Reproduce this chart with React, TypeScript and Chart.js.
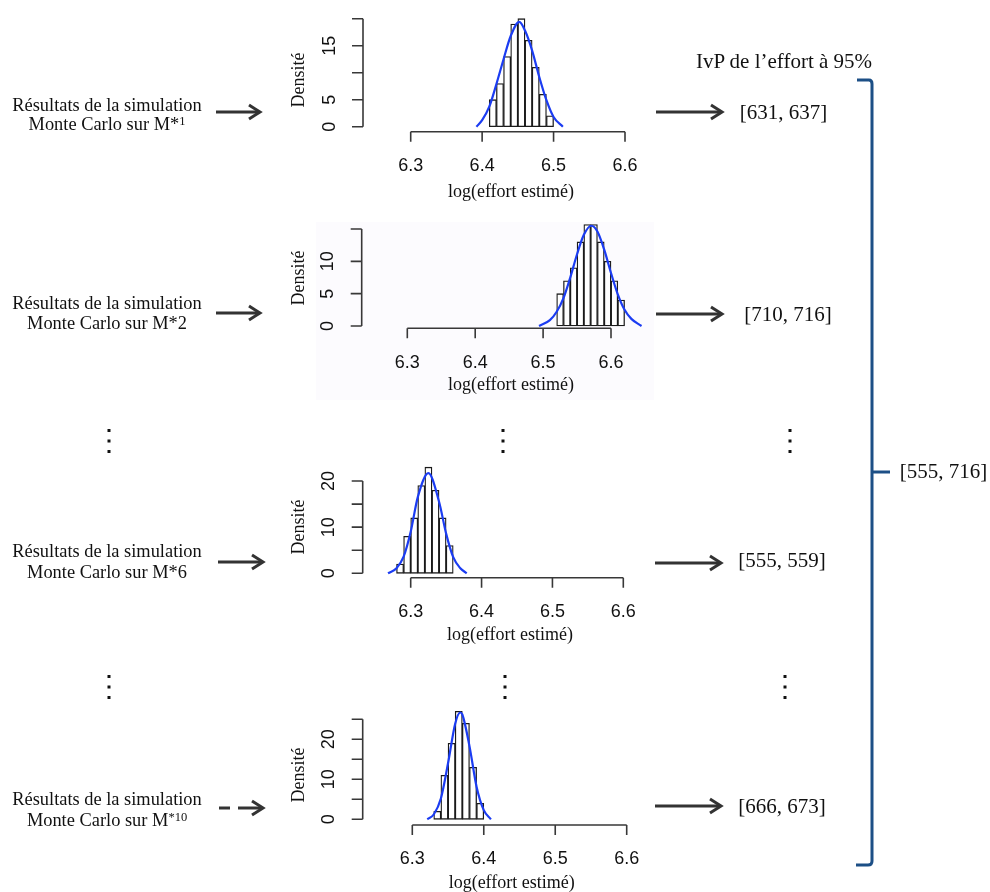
import React, { useEffect, useRef } from "react";
import { Chart, registerables } from "chart.js";

Chart.register(...registerables);

// ---------------- data ----------------
const xTickValues = [6.3, 6.4, 6.5, 6.6];
const xTickLabels = ["6.3", "6.4", "6.5", "6.6"];
const binWidth = 0.01;
const X_MIN = 6.25;
const X_MAX = 6.66;

// M*1
const m1BinStarts = [6.41, 6.42, 6.43, 6.44, 6.45, 6.46, 6.47, 6.48, 6.49];
const m1Density = [5, 8, 13, 19, 20, 16, 11, 6, 2];
const m1CurveX = [6.392, 6.4, 6.41, 6.42, 6.43, 6.44, 6.452, 6.46, 6.47, 6.48, 6.49, 6.5, 6.513];
const m1CurveY = [0, 1.2, 3.7, 7.9, 12.5, 16.8, 19.4, 17.8, 14.1, 9.2, 4.9, 1.8, 0];
const m1YTicks = [0, 5, 10, 15, 20];
const m1YLabels = ["0", "5", "", "15", ""];

// M*2
const m2BinStarts = [6.52, 6.53, 6.54, 6.55, 6.56, 6.57, 6.58, 6.59, 6.6, 6.61];
const m2Density = [5, 7, 9, 13, 15.7, 15.7, 13, 10, 7, 4];
const m2CurveX = [6.494, 6.51, 6.52, 6.53, 6.54, 6.55, 6.56, 6.571, 6.58, 6.59, 6.6, 6.61, 6.62, 6.63, 6.645];
const m2CurveY = [0, 0.9, 2.2, 4.3, 7.5, 11.1, 14.1, 15.5, 14.6, 11.8, 8.2, 4.9, 2.5, 1.1, 0];
const m2YTicks = [0, 5, 10, 15];
const m2YLabels = ["0", "5", "10", ""];

// M*6
const m6BinStarts = [6.28, 6.29, 6.3, 6.31, 6.32, 6.33, 6.34, 6.35];
const m6Density = [2, 8, 12, 19, 23, 18, 12, 6];
const m6CurveX = [6.268, 6.28, 6.29, 6.3, 6.31, 6.325, 6.34, 6.35, 6.36, 6.37, 6.379];
const m6CurveY = [0, 1.1, 3.6, 9.0, 16.5, 21.7, 15.5, 8.6, 3.5, 1.1, 0];
const m6YTicks = [0, 5, 10, 15, 20];
const m6YLabels = ["0", "", "10", "", "20"];

// M*10
const m10BinStarts = [6.33, 6.34, 6.35, 6.36, 6.37, 6.38, 6.39];
const m10Density = [2, 11, 19, 27, 24, 13, 4];
const m10CurveX = [6.321, 6.33, 6.34, 6.35, 6.36, 6.367, 6.37, 6.38, 6.39, 6.4, 6.41];
const m10CurveY = [0, 1.2, 5.2, 14.0, 23.9, 26.7, 26.2, 18.3, 8.1, 2.3, 0];
const m10YTicks = [0, 5, 10, 15, 20, 25];
const m10YLabels = ["0", "", "10", "", "20", ""];

const intervals = ["[631, 637]", "[710, 716]", "[555, 559]", "[666, 673]"];
const globalInterval = "[555, 716]";

// ---------------- layout ----------------
const CANVAS_LEFT = 270;
const CANVAS_WIDTH = 420;

const panels = [
  {
    binStarts: m1BinStarts, density: m1Density, curveX: m1CurveX, curveY: m1CurveY,
    yTicks: m1YTicks, yLabels: m1YLabels,
    top: 0, height: 210, x63: 410.7, x66: 625, y0: 126.7, yTopPx: 18.7,
    yAxisX: 363, xAxisY: 131.7, xTickY: 166, xTitleX: 511, xTitleY: 192,
    yTickX: 330, yTitleX: 299, yTitleY: 80,
  },
  {
    binStarts: m2BinStarts, density: m2Density, curveX: m2CurveX, curveY: m2CurveY,
    yTicks: m2YTicks, yLabels: m2YLabels,
    top: 205, height: 200, x63: 407.3, x66: 611, y0: 326, yTopPx: 229,
    yAxisX: 361.7, xAxisY: 328.3, xTickY: 363, xTitleX: 511, xTitleY: 385,
    yTickX: 328, yTitleX: 299, yTitleY: 278,
  },
  {
    binStarts: m6BinStarts, density: m6Density, curveX: m6CurveX, curveY: m6CurveY,
    yTicks: m6YTicks, yLabels: m6YLabels,
    top: 455, height: 195, x63: 410.7, x66: 623.3, y0: 573.3, yTopPx: 481,
    yAxisX: 362.7, xAxisY: 577.7, xTickY: 611.7, xTitleX: 510, xTitleY: 635,
    yTickX: 329, yTitleX: 299, yTitleY: 527,
  },
  {
    binStarts: m10BinStarts, density: m10Density, curveX: m10CurveX, curveY: m10CurveY,
    yTicks: m10YTicks, yLabels: m10YLabels,
    top: 700, height: 192, x63: 412.3, x66: 626.7, y0: 819.3, yTopPx: 719.3,
    yAxisX: 362.7, xAxisY: 825, xTickY: 859, xTitleX: 511.7, xTitleY: 883,
    yTickX: 329, yTitleX: 299, yTitleY: 775,
  },
];

type Panel = (typeof panels)[number];

function axisPlugin(p: Panel) {
  return {
    id: "rAxes",
    afterDraw(chart: any) {
      const ctx = chart.ctx as CanvasRenderingContext2D;
      const xs = chart.scales.x;
      const ys = chart.scales.y;
      const ox = CANVAS_LEFT;
      const oy = p.top;
      ctx.save();
      ctx.strokeStyle = "#383838";
      ctx.fillStyle = "#111";
      ctx.lineWidth = 1.6;
      // x axis
      const yA = p.xAxisY - oy;
      ctx.beginPath();
      ctx.moveTo(xs.getPixelForValue(xTickValues[0]), yA);
      ctx.lineTo(xs.getPixelForValue(xTickValues[xTickValues.length - 1]), yA);
      xTickValues.forEach((v) => {
        const px = xs.getPixelForValue(v);
        ctx.moveTo(px, yA);
        ctx.lineTo(px, yA + 10);
      });
      ctx.stroke();
      ctx.font = '18px "Liberation Sans", Arial, sans-serif';
      ctx.textAlign = "center";
      ctx.textBaseline = "middle";
      xTickValues.forEach((v, i) => {
        ctx.fillText(xTickLabels[i], xs.getPixelForValue(v), p.xTickY - oy);
      });
      // y axis
      const xA = p.yAxisX - ox;
      ctx.beginPath();
      ctx.moveTo(xA, ys.getPixelForValue(p.yTicks[0]));
      ctx.lineTo(xA, ys.getPixelForValue(p.yTicks[p.yTicks.length - 1]));
      p.yTicks.forEach((v) => {
        const py = ys.getPixelForValue(v);
        ctx.moveTo(xA, py);
        ctx.lineTo(xA - 11, py);
      });
      ctx.stroke();
      p.yTicks.forEach((v, i) => {
        const lab = p.yLabels[i];
        if (!lab) return;
        ctx.save();
        ctx.translate(p.yTickX - ox, ys.getPixelForValue(v));
        ctx.rotate(-Math.PI / 2);
        ctx.fillText(lab, 0, 0);
        ctx.restore();
      });
      // titles
      ctx.font = '18px "Liberation Serif", "Times New Roman", serif';
      ctx.fillText("log(effort estimé)", p.xTitleX - ox, p.xTitleY - oy);
      ctx.save();
      ctx.translate(p.yTitleX - ox, p.yTitleY - oy);
      ctx.rotate(-Math.PI / 2);
      ctx.fillText("Densité", 0, 0);
      ctx.restore();
      ctx.restore();
    },
  };
}

function HistPanel({ p }: { p: Panel }) {
  const ref = useRef<HTMLCanvasElement>(null);
  useEffect(() => {
    if (!ref.current) return;
    const yMax = p.yTicks[p.yTicks.length - 1];
    const pxPerUnit = (p.x66 - p.x63) / (xTickValues[3] - xTickValues[0]);
    const leftPx = p.x63 - (xTickValues[0] - X_MIN) * pxPerUnit;
    const rightPx = p.x66 + (X_MAX - xTickValues[3]) * pxPerUnit;
    const chart = new Chart(ref.current, {
      type: "bar",
      data: {
        datasets: [
          {
            type: "line",
            data: p.curveX.map((x, i) => ({ x, y: p.curveY[i] })),
            borderColor: "#1b3cf2",
            borderWidth: 2.2,
            pointRadius: 0,
            cubicInterpolationMode: "monotone",
            fill: false,
            order: 0,
            clip: false,
          } as any,
          {
            type: "bar",
            data: p.binStarts.map((s, i) => ({ x: s + binWidth / 2, y: p.density[i] })),
            backgroundColor: "#ffffff",
            borderColor: "#1a1a1a",
            borderWidth: 1.3,
            borderSkipped: false,
            barPercentage: 1,
            categoryPercentage: 1,
            order: 1,
            clip: false,
          } as any,
        ],
      },
      options: {
        animation: false,
        responsive: false,
        maintainAspectRatio: false,
        layout: {
          padding: {
            left: leftPx - CANVAS_LEFT,
            right: CANVAS_WIDTH - (rightPx - CANVAS_LEFT),
            top: p.yTopPx - p.top,
            bottom: p.height - (p.y0 - p.top),
          },
        },
        scales: {
          x: { type: "linear", min: X_MIN, max: X_MAX, display: false, offset: false },
          y: { type: "linear", min: 0, max: yMax, display: false },
        },
        plugins: { legend: { display: false }, tooltip: { enabled: false } },
      },
      plugins: [axisPlugin(p)],
    } as any);
    return () => chart.destroy();
  }, [p]);
  return (
    <canvas
      ref={ref}
      width={CANVAS_WIDTH}
      height={p.height}
      style={{ position: "absolute", left: CANVAS_LEFT, top: p.top, width: CANVAS_WIDTH, height: p.height }}
    />
  );
}

const serif = '"Liberation Serif", "Times New Roman", serif';

function Txt({ x, y, size, children }: { x: number; y: number; size: number; children: React.ReactNode }) {
  return (
    <div
      style={{
        position: "absolute",
        left: x,
        top: y,
        transform: "translate(-50%, -50%)",
        whiteSpace: "nowrap",
        fontFamily: serif,
        fontSize: size,
        lineHeight: 1,
        color: "#111",
        textAlign: "center",
      }}
    >
      {children}
    </div>
  );
}

const sup: React.CSSProperties = { fontSize: "0.68em", verticalAlign: "0.42em" };

function Arrow({ x1, x2, y, dashed }: { x1: number; x2: number; y: number; dashed?: boolean }) {
  return (
    <g stroke="#333" strokeWidth={3} fill="none" strokeLinejoin="miter">
      {dashed ? (
        <>
          <line x1={x1} y1={y} x2={x1 + 11} y2={y} />
          <line x1={x1 + 19} y1={y} x2={x2 - 2} y2={y} />
        </>
      ) : (
        <line x1={x1} y1={y} x2={x2 - 2} y2={y} />
      )}
      <polyline points={`${x2 - 11},${y - 7} ${x2},${y} ${x2 - 11},${y + 7}`} />
    </g>
  );
}

function Dots({ x, y }: { x: number; y: number }) {
  return (
    <g fill="#111">
      <rect x={x - 1.5} y={y - 12} width={3} height={3} />
      <rect x={x - 1.5} y={y - 1.5} width={3} height={3} />
      <rect x={x - 1.5} y={y + 9} width={3} height={3} />
    </g>
  );
}

export default function App() {
  return (
    <div style={{ position: "fixed", left: 0, top: 0, width: 990, height: 892, background: "#fff", overflow: "hidden" }}>
      <div style={{ position: "absolute", left: 316, top: 222, width: 338, height: 178, background: "#fcfbfe" }} />
      {panels.map((p, i) => (
        <HistPanel key={i} p={p} />
      ))}
      <svg width={990} height={892} style={{ position: "absolute", left: 0, top: 0 }}>
        <Arrow x1={216} x2={260} y={112} />
        <Arrow x1={216} x2={260} y={313} />
        <Arrow x1={218} x2={263} y={562} />
        <Arrow x1={219} x2={263} y={808} dashed />
        <Arrow x1={656} x2={722} y={112} />
        <Arrow x1={656} x2={722} y={314} />
        <Arrow x1={655} x2={721} y={563} />
        <Arrow x1={655} x2={721} y={806} />
        <Dots x={109} y={441} />
        <Dots x={503} y={441} />
        <Dots x={790} y={441} />
        <Dots x={109} y={687} />
        <Dots x={505} y={687} />
        <Dots x={785} y={687} />
        <g stroke="#1c4f86" strokeWidth={3} fill="none">
          <path d="M857,80 L869,80 Q872,80 872,84 L872,861 Q872,865 868,865 L856,865" />
          <path d="M872,472 L890,472" />
        </g>
      </svg>
      <Txt x={107} y={105} size={18.4}>Résultats de la simulation</Txt>
      <Txt x={107} y={124} size={18.4}>
        Monte Carlo sur M*<span style={sup}>1</span>
      </Txt>
      <Txt x={107} y={303} size={18.4}>Résultats de la simulation</Txt>
      <Txt x={107} y={323} size={18.4}>Monte Carlo sur M*2</Txt>
      <Txt x={107} y={551} size={18.4}>Résultats de la simulation</Txt>
      <Txt x={107} y={572} size={18.4}>Monte Carlo sur M*6</Txt>
      <Txt x={107} y={799} size={18.4}>Résultats de la simulation</Txt>
      <Txt x={107} y={820} size={18.4}>
        Monte Carlo sur M<span style={sup}>*10</span>
      </Txt>
      <Txt x={784} y={61} size={21}>IvP de l’effort à 95%</Txt>
      <Txt x={783.5} y={112} size={21}>{intervals[0]}</Txt>
      <Txt x={788} y={314} size={21}>{intervals[1]}</Txt>
      <Txt x={782} y={560} size={21}>{intervals[2]}</Txt>
      <Txt x={782} y={806} size={21}>{intervals[3]}</Txt>
      <Txt x={943.5} y={471} size={21}>{globalInterval}</Txt>
    </div>
  );
}
